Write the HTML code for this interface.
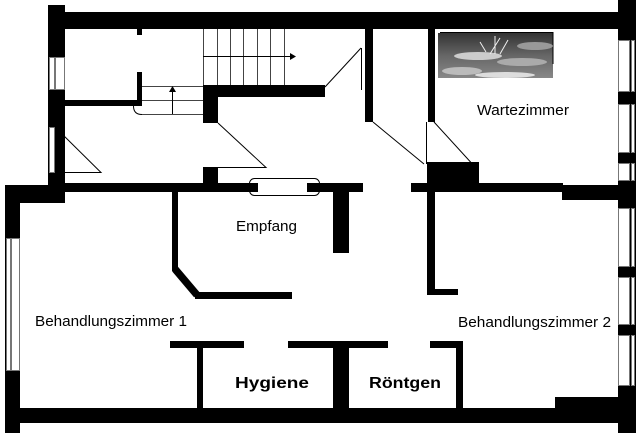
<!DOCTYPE html>
<html><head><meta charset="utf-8"><style>
html,body{margin:0;padding:0;background:#fff;}
svg{display:block;}
text{font-family:"Liberation Sans",sans-serif;}
</style></head><body>
<svg width="640" height="436" viewBox="0 0 640 436" xmlns="http://www.w3.org/2000/svg">
<rect width="640" height="436" fill="#fff"/>
<g fill="#000">
<rect x="48" y="12" width="580" height="17"/>
<rect x="48" y="5" width="17" height="195"/>
<rect x="618" y="0" width="18" height="433"/>
<rect x="137" y="29" width="5" height="6"/>
<rect x="137" y="72" width="5" height="34"/>
<rect x="65" y="100" width="77" height="6"/>
<rect x="203" y="85" width="122" height="12"/>
<rect x="203" y="85" width="15" height="38"/>
<rect x="203" y="167" width="15" height="17"/>
<rect x="48" y="183" width="210" height="9"/>
<rect x="307" y="183" width="56" height="9"/>
<rect x="333" y="183" width="16" height="70"/>
<rect x="411" y="183" width="152" height="9"/>
<rect x="562" y="185" width="60" height="15"/>
<rect x="5" y="185" width="60" height="18"/>
<rect x="5" y="185" width="15" height="248"/>
<rect x="365" y="29" width="8" height="93"/>
<rect x="428" y="29" width="7" height="93"/>
<rect x="427" y="162" width="52" height="27"/>
<rect x="427" y="185" width="8" height="110"/>
<rect x="427" y="289" width="31" height="6"/>
<rect x="172" y="191" width="6" height="80"/>
<rect x="195" y="292" width="97" height="7"/>
<rect x="5" y="408" width="615" height="15"/>
<rect x="555" y="397" width="65" height="12"/>
<rect x="170" y="341" width="74" height="7"/>
<rect x="197" y="341" width="6" height="68"/>
<rect x="288" y="341" width="100" height="7"/>
<rect x="333" y="341" width="16" height="68"/>
<rect x="430" y="341" width="33" height="7"/>
<rect x="456" y="341" width="7" height="68"/>
</g>
<line x1="175" y1="269" x2="197" y2="295" stroke="#000" stroke-width="7.5"/>
<g fill="#fff" stroke="#777" stroke-width="1">
<rect x="49.5" y="57.5" width="5" height="32"/>
<rect x="55.5" y="57.5" width="9" height="32"/>
<rect x="49.5" y="127.5" width="5" height="45"/>
<rect x="6.5" y="238.5" width="4" height="132"/>
<rect x="11.5" y="238.5" width="8" height="132"/>
</g>
<g fill="#fff" stroke="#777" stroke-width="1">
<rect x="618.5" y="40.5" width="11" height="51"/><rect x="631.5" y="40.5" width="3" height="51"/>
<rect x="618.5" y="104.5" width="11" height="48"/><rect x="631.5" y="104.5" width="3" height="48"/>
<rect x="618.5" y="163.5" width="11" height="17"/><rect x="631.5" y="163.5" width="3" height="17"/>
<rect x="618.5" y="208.5" width="11" height="58"/><rect x="631.5" y="208.5" width="3" height="58"/>
<rect x="618.5" y="277.5" width="11" height="47"/><rect x="631.5" y="277.5" width="3" height="47"/>
<rect x="618.5" y="335.5" width="11" height="50"/><rect x="631.5" y="335.5" width="3" height="50"/>
</g>
<rect x="249.5" y="178.5" width="70" height="17" rx="5" fill="none" stroke="#000" stroke-width="1"/>
<rect x="249" y="183" width="9" height="9" fill="#000"/>
<rect x="307" y="183" width="13" height="9" fill="#000"/>
<g stroke="#444" stroke-width="1" fill="none">
<path d="M203.5 29V85M217.5 29V85M230.5 29V85M243.5 29V85M257.5 29V85M270.5 29V85M284.5 29V85"/>
<path d="M142 86.5H203M142 100.5H203M142 114.5H203"/>
</g>
<g stroke="#000" stroke-width="1" fill="none">
<path d="M203 56.5H290"/>
<path d="M172.5 114V90"/>
<path d="M133.5 106 Q133.5 114.5 142 114.5"/>
<path d="M55 127L101 172.5H55"/>
<path d="M218 123L266 167.5H218"/>
<path d="M361.5 48V90M361 48L325 87"/>
<path d="M373 122L424 164"/>
<path d="M426.5 122V164M434 122L471 162.5H426"/>
</g>
<polygon points="290,53 296,56.5 290,60" fill="#000"/>
<polygon points="169,92 172.5,86 176,92" fill="#000"/>
<defs><linearGradient id="aq" x1="0" y1="0" x2="0" y2="1">
<stop offset="0" stop-color="#333"/><stop offset="0.5" stop-color="#666"/><stop offset="1" stop-color="#888"/></linearGradient></defs>
<rect x="438" y="33" width="115" height="45" fill="url(#aq)"/>
<path d="M440 32.5H553V64" stroke="#000" fill="none"/>
<ellipse cx="478" cy="56" rx="24" ry="4" fill="#ccc"/>
<ellipse cx="522" cy="62" rx="25" ry="4" fill="#aaa"/>
<ellipse cx="462" cy="71" rx="20" ry="4" fill="#bbb"/>
<ellipse cx="535" cy="46" rx="18" ry="4" fill="#999"/>
<ellipse cx="505" cy="75" rx="30" ry="3" fill="#ddd"/>
<path d="M490 54l10-16M495 54l0-18M500 54l8-14M486 52l-6-10" stroke="#eee" stroke-width="1"/>
<g font-size="15" fill="#000">
<text x="477" y="115" textLength="92" lengthAdjust="spacingAndGlyphs">Wartezimmer</text>
<text x="236" y="231" textLength="61" lengthAdjust="spacingAndGlyphs">Empfang</text>
<text x="35" y="326" textLength="152" lengthAdjust="spacingAndGlyphs">Behandlungszimmer 1</text>
<text x="458" y="327" textLength="153" lengthAdjust="spacingAndGlyphs">Behandlungszimmer 2</text>
<text x="235" y="388" font-weight="bold" font-size="16" textLength="74" lengthAdjust="spacingAndGlyphs">Hygiene</text>
<text x="369" y="388" font-weight="bold" font-size="16" textLength="72" lengthAdjust="spacingAndGlyphs">Röntgen</text>
</g>
</svg>
</body></html>
